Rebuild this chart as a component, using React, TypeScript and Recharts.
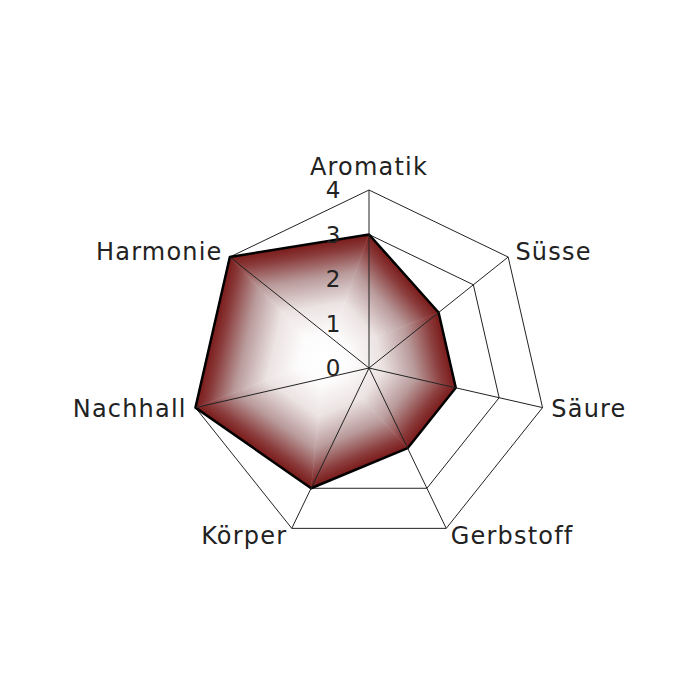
import { RadarChart, Radar, PolarGrid, PolarAngleAxis, PolarRadiusAxis } from 'recharts'

const categories = ['Aromatik', 'Süsse', 'Säure', 'Gerbstoff', 'Körper', 'Nachhall', 'Harmonie']
const scores = [3, 2, 2, 2, 3, 4, 4]
const radiusTicks = [0, 1, 2, 3, 4]

const data = categories.map((attr, i) => ({ attr, score: scores[i] }))

const FONT = '"DejaVu Sans", sans-serif'

// path-gradient look: each edge dark red, fading to white toward the centroid
function GradientShape(props: any) {
  const pts: { x: number; y: number }[] = props.points || []
  if (!pts.length) return null
  let a = 0, gx = 0, gy = 0
  pts.forEach((p, i) => {
    const q = pts[(i + 1) % pts.length]
    const c = p.x * q.y - q.x * p.y
    a += c
    gx += (p.x + q.x) * c
    gy += (p.y + q.y) * c
  })
  gx /= 3 * a
  gy /= 3 * a
  return (
    <g>
      <defs>
        {pts.map((p, i) => {
          const q = pts[(i + 1) % pts.length]
          const dx = q.x - p.x, dy = q.y - p.y
          const t = ((gx - p.x) * dx + (gy - p.y) * dy) / (dx * dx + dy * dy)
          const fx = p.x + t * dx, fy = p.y + t * dy
          return (
            <linearGradient key={i} id={`pg${i}`} gradientUnits="userSpaceOnUse" x1={gx} y1={gy} x2={fx} y2={fy}>
              <stop offset="0" stopColor="#ffffff" />
              <stop offset="0.2" stopColor="#fdfcfc" />
              <stop offset="0.45" stopColor="#ece3e3" />
              <stop offset="0.7" stopColor="#b99a9a" />
              <stop offset="0.9" stopColor="#8b3c3c" />
              <stop offset="1" stopColor="#7a1a1a" />
            </linearGradient>
          )
        })}
      </defs>
      {pts.map((p, i) => {
        const q = pts[(i + 1) % pts.length]
        return (
          <polygon key={i} points={`${gx},${gy} ${p.x},${p.y} ${q.x},${q.y}`}
            fill={`url(#pg${i})`} stroke={`url(#pg${i})`} strokeWidth={0.5} />
        )
      })}
      <polygon points={pts.map((p) => `${p.x},${p.y}`).join(' ')} fill="none" stroke="#000" strokeWidth={2.5} strokeLinejoin="round" />
    </g>
  )
}

function AngleTick({ x, y, payload, cx, cy }: any) {
  const dx = x - cx
  const anchor = Math.abs(dx) < 1 ? 'middle' : dx > 0 ? 'start' : 'end'
  const top = Math.abs(dx) < 1 && y < cy
  return (
    <text x={x + (dx > 1 ? 1 : dx < -1 ? -1 : 0)} y={y} dy={top ? -7 : 8} textAnchor={anchor}
      fontFamily={FONT} fontSize={24} letterSpacing={1.2} fill="#222">
      {payload.value}
    </text>
  )
}

function RadiusTick({ x, y, payload }: any) {
  return (
    <text x={x - 36} y={y} dy={8} textAnchor="middle" fontFamily={FONT} fontSize={23} fill="#222">
      {payload.value}
    </text>
  )
}

export default function App() {
  return (
    <div style={{ position: 'absolute', left: 0, top: 0, width: 700, height: 700, background: '#fff' }}>
      <RadarChart width={700} height={700} data={data} cx={369} cy={368} outerRadius={178}
        margin={{ top: 0, right: 0, bottom: 0, left: 0 }}>
        <PolarGrid gridType="polygon" radialLines={false} stroke="#222" strokeOpacity={1} />
        <PolarAngleAxis dataKey="attr" tick={<AngleTick cx={369} cy={368} />} tickLine={false} axisLine={false} />
        <PolarRadiusAxis angle={90} domain={[0, 4]} ticks={radiusTicks as any} tickCount={5}
          axisLine={false} tickLine={false} tick={<RadiusTick />} />
        <Radar dataKey="score" isAnimationActive={false} shape={<GradientShape />} />
        <PolarGrid gridType="polygon" polarRadius={[]} radialLines stroke="#222" strokeOpacity={1} zIndex={1000} />
      </RadarChart>
    </div>
  )
}
